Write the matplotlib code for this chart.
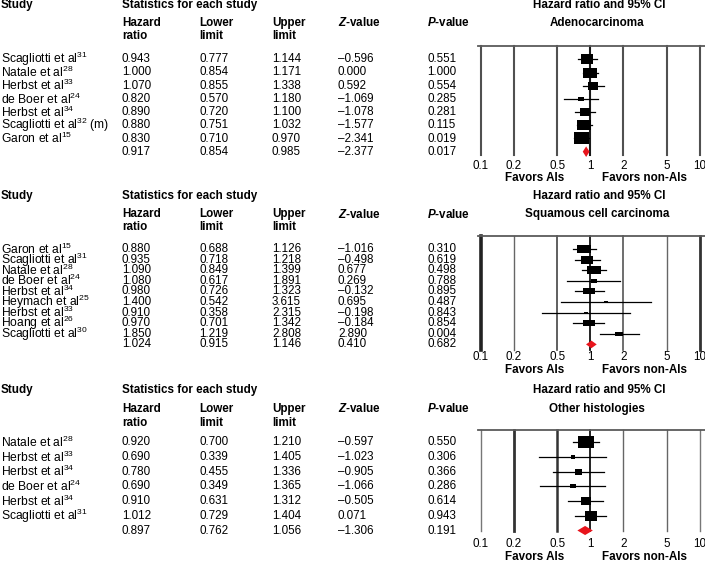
import numpy as np
import matplotlib
matplotlib.use("Agg")
import matplotlib.pyplot as plt
from matplotlib.lines import Line2D

plt.rcParams['font.family'] = ['Liberation Sans', 'DejaVu Sans']
plt.rcParams['mathtext.fontset'] = 'custom'
plt.rcParams['mathtext.rm'] = 'Liberation Sans'
plt.rcParams['mathtext.it'] = 'Liberation Sans:italic:bold'
plt.rcParams['mathtext.bf'] = 'Liberation Sans:bold'

# asse dei hazard ratio
ticks = [0.1, 0.2, 0.5, 1, 2, 5, 10]
tick_labels = ['0.1', '0.2', '0.5', '1', '2', '5', '10']

# Adenocarcinoma
adeno_names = ["Scagliotti et al$^{31}$", "Natale et al$^{28}$", "Herbst et al$^{33}$",
               "de Boer et al$^{24}$", "Herbst et al$^{34}$", "Scagliotti et al$^{32}$ (m)",
               "Garon et al$^{15}$"]
adeno_hr = [0.943, 1.000, 1.070, 0.820, 0.890, 0.880, 0.830, 0.917]
adeno_lo = [0.777, 0.854, 0.855, 0.570, 0.720, 0.751, 0.710, 0.854]
adeno_hi = [1.144, 1.171, 1.338, 1.180, 1.100, 1.032, 0.970, 0.985]
adeno_z = [-0.596, 0.000, 0.592, -1.069, -1.078, -1.577, -2.341, -2.377]
adeno_p = [0.551, 1.000, 0.554, 0.285, 0.281, 0.115, 0.019, 0.017]
adeno_w = [12.3, 14.3, 10, 6.3, 10, 13.7, 15]  # peso relativo (dimensione del quadrato)

# Squamous cell carcinoma
squam_names = ["Garon et al$^{15}$", "Scagliotti et al$^{31}$", "Natale et al$^{28}$",
               "de Boer et al$^{24}$", "Herbst et al$^{34}$", "Heymach et al$^{25}$",
               "Herbst et al$^{33}$", "Hoang et al$^{26}$", "Scagliotti et al$^{30}$"]
squam_hr = [0.880, 0.935, 1.090, 1.080, 0.980, 1.400, 0.910, 0.970, 1.850, 1.024]
squam_lo = [0.688, 0.718, 0.849, 0.617, 0.726, 0.542, 0.358, 0.701, 1.219, 0.915]
squam_hi = [1.126, 1.218, 1.399, 1.891, 1.323, 3.615, 2.315, 1.342, 2.808, 1.146]
squam_z = [-1.016, -0.498, 0.677, 0.269, -0.132, 0.695, -0.198, -0.184, 2.890, 0.410]
squam_p = [0.310, 0.619, 0.498, 0.788, 0.895, 0.487, 0.843, 0.854, 0.004, 0.682]
squam_w = [14.7, 12.7, 14, 6.3, 12, 3.7, 3.3, 11.3, 8]

# Other histologies
other_names = ["Natale et al$^{28}$", "Herbst et al$^{33}$", "Herbst et al$^{34}$",
               "de Boer et al$^{24}$", "Herbst et al$^{34}$", "Scagliotti et al$^{31}$"]
other_hr = [0.920, 0.690, 0.780, 0.690, 0.910, 1.012, 0.897]
other_lo = [0.700, 0.339, 0.455, 0.349, 0.631, 0.729, 0.762]
other_hi = [1.210, 1.405, 1.336, 1.365, 1.312, 1.404, 1.056]
other_z = [-0.597, -1.023, -0.905, -1.066, -0.505, 0.071, -1.306]
other_p = [0.550, 0.306, 0.366, 0.286, 0.614, 0.943, 0.191]
other_w = [15.3, 5, 7, 5.3, 10.7, 12.7]

W, H = 705, 562
FS = 8.4      # numeri e intestazioni
FS_NAME = 8.7 # nomi degli studi
RED = '#e8141c'

fig = plt.figure(figsize=(W / 100, H / 100), dpi=100)


def txt(x, y, s, size=FS, **kw):
    fig.text(x / W, 1 - y / H, s, fontsize=size, va='center', **kw)


def fmt(v):
    return f"{v:.3f}".replace('-', '\u2013')


def panel(top, bot, row0, step, head, names, hr, lo, hi, zv, pv, wt, title,
          aspect, dia_h, vstyle, tick_pad, fav_y):
    h0, h1, h2 = head
    # intestazioni
    txt(1, h0, "Study", fontweight='bold')
    txt(122, h0, "Statistics for each study", fontweight='bold')
    txt(122, h1, "Hazard", fontweight='bold')
    txt(122, h2, "ratio", fontweight='bold')
    txt(199, h1, "Lower", fontweight='bold')
    txt(199, h2, "limit", fontweight='bold')
    txt(272, h1, "Upper", fontweight='bold')
    txt(272, h2, "limit", fontweight='bold')
    txt(338, h1, "$Z$-value", fontweight='bold')
    txt(427, h1, "$P$-value", fontweight='bold')
    txt(599, h0, "Hazard ratio and 95% CI", fontweight='bold', ha='center')
    txt(597, h1, title, fontweight='bold', ha='center')

    # tabella
    n = len(names)
    for i in range(n + 1):
        y = row0 + i * step
        if i < n:
            txt(1, y, names[i], size=FS_NAME)
        txt(122, y, fmt(hr[i]))
        txt(199, y, fmt(lo[i]))
        txt(272, y, fmt(hi[i]))
        txt(338, y, fmt(zv[i]))
        txt(427, y, fmt(pv[i]))

    # forest plot
    ax = fig.add_axes([481 / W, 1 - bot / H, (699.5 - 481) / W, (bot - top) / H])
    ax.set_xscale('log')
    ax.set_xlim(0.1, 10)
    ax.set_ylim((bot - row0) / step, (top - row0) / step)
    for s in ax.spines.values():
        s.set_visible(False)
    ax.set_yticks([])
    ax.xaxis.set_minor_locator(matplotlib.ticker.NullLocator())
    ax.set_xticks(ticks)
    ax.set_xticklabels(tick_labels, fontsize=FS)
    ax.tick_params(axis='x', length=0, pad=tick_pad)
    for v, (c, lw) in zip(ticks, vstyle):
        ax.axvline(v, color=c, lw=lw, clip_on=False, zorder=1)

    k = 1 / aspect
    box = [(-1, -k), (1, -k), (1, k), (-1, k), (-1, -k)]
    for i in range(n):
        ax.plot([lo[i], hi[i]], [i, i], color='black', lw=0.9, zorder=2)
        ax.plot(hr[i], i, marker=box, ms=wt[i] * 0.72, color='black', mew=0, zorder=3)
    ax.fill([lo[n], hr[n], hi[n], hr[n]], [n, n - dia_h, n, n + dia_h],
            color=RED, lw=0, zorder=3, clip_on=False)

    fig.add_artist(Line2D([478 / W, 1], [1 - top / H] * 2, color='#5a5a5a', lw=1.3))
    txt(535, fav_y, "Favors AIs", fontweight='bold', ha='center')
    txt(645, fav_y, "Favors non-AIs", fontweight='bold', ha='center')


style_top = [('#505050', 1.5)] * 3 + [('#1a1a1a', 1.5)] + [('#505050', 1.5)] * 3
style_mid = [('#222222', 2.6), ('#666666', 1.0), ('#444444', 1.2), ('#111111', 1.3),
             ('#555555', 1.2), ('#666666', 1.0), ('#333333', 2.0)]
style_bot = [('#777777', 1.0), ('#333333', 2.0), ('#333333', 1.8), ('#111111', 1.3),
             ('#666666', 1.0), ('#666666', 1.0), ('#777777', 1.0)]

panel(46, 155, 59.3, 13.2, (5, 23, 36), adeno_names, adeno_hr, adeno_lo, adeno_hi,
      adeno_z, adeno_p, adeno_w, "Adenocarcinoma", 1.35, 0.4, style_top, 3.6, 178)
panel(236, 350, 249, 10.6, (196, 214, 227), squam_names, squam_hr, squam_lo, squam_hi,
      squam_z, squam_p, squam_w, "Squamous cell carcinoma", 1.8, 0.36, style_mid, 0.8, 370)
panel(430, 531, 442.3, 14.7, (390, 409, 423), other_names, other_hr, other_lo, other_hi,
      other_z, other_p, other_w, "Other histologies", 1.2, 0.31, style_bot, 5.0, 557)

fig.savefig("out.png", dpi=100)
